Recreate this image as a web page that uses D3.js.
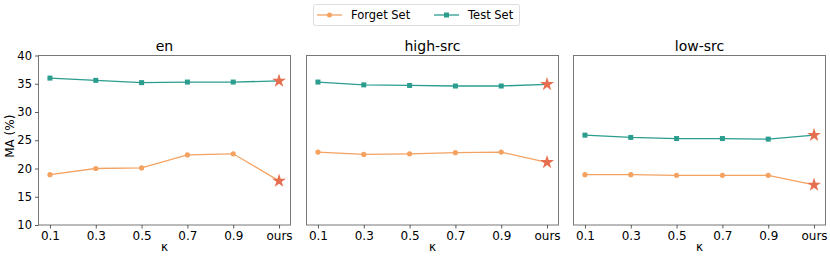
<!DOCTYPE html>
<html>
<head>
<meta charset="utf-8">
<script src="https://cdn.jsdelivr.net/npm/d3@7"></script>
<style>
body { margin: 0; background: #fff; }
svg { font-family: "DejaVu Sans", sans-serif; }
</style>
</head>
<body>
<div id="root"></div>
<script>
// x categories (kappa)
var kappas = ["0.1", "0.3", "0.5", "0.7", "0.9", "ours"];
var panels = ["en", "high-src", "low-src"];
var yTicks = [10, 15, 20, 25, 30, 35, 40];

// values
var forgetEn   = [18.9, 20.0, 20.1, 22.4, 22.6, 17.8];
var testEn     = [36.0, 35.6, 35.2, 35.3, 35.3, 35.5];
var forgetHigh = [22.9, 22.5, 22.6, 22.8, 22.9, 21.1];
var testHigh   = [35.3, 34.8, 34.7, 34.6, 34.6, 34.9];
var forgetLow  = [18.9, 18.9, 18.8, 18.8, 18.8, 17.1];
var testLow    = [25.9, 25.5, 25.3, 25.3, 25.2, 25.9];

var forgetAll = [forgetEn, forgetHigh, forgetLow];
var testAll = [testEn, testHigh, testLow];

var cForget = "#f4a261", cTest = "#2a9d8f", cStar = "#e76f51";

var W = 830, H = 261;
var svg = d3.select("#root").append("svg").attr("width", W).attr("height", H);

var panelLeft = [38.5, 306.5, 573.5];
var pw = 252, plotTop = 55.5, plotBottom = 225;

var y = d3.scaleLinear().domain([10, 40]).range([plotBottom, plotTop]);

var star = d3.symbol().type(d3.symbolStar).size(60);

panels.forEach(function(name, i) {
    var x0 = panelLeft[i];
    // matplotlib 5% margins on each side
    var x = d3.scalePoint().domain(kappas).range([x0 + pw * 0.05 / 1.1, x0 + pw - pw * 0.05 / 1.1]);

    var g = svg.append("g");

    // frame
    g.append("rect")
        .attr("x", x0).attr("y", plotTop)
        .attr("width", pw).attr("height", plotBottom - plotTop)
        .attr("fill", "none").attr("stroke", "#777").attr("stroke-width", 1);

    // x axis
    var xa = g.append("g").attr("transform", "translate(0," + plotBottom + ")")
        .call(d3.axisBottom(x).tickSize(3.5).tickPadding(3));
    xa.select(".domain").remove();
    xa.selectAll("line").attr("stroke", "#333").attr("stroke-width", 0.8);
    xa.selectAll("text").attr("font-size", "12px").attr("fill", "#000")
        .attr("font-family", "DejaVu Sans");

    g.append("text").attr("x", x0 + pw / 2).attr("y", 251)
        .attr("text-anchor", "middle").attr("font-size", "12px").text("κ");

    if (i === 0) {
        var ya = g.append("g").attr("transform", "translate(" + x0 + ",0)")
            .call(d3.axisLeft(y).tickValues(yTicks).tickSize(3.5).tickPadding(3));
        ya.select(".domain").remove();
        ya.selectAll("line").attr("stroke", "#333").attr("stroke-width", 0.8);
        ya.selectAll("text").attr("font-size", "11.5px").attr("fill", "#000")
            .attr("font-family", "DejaVu Sans");
        g.append("text")
            .attr("transform", "translate(14," + ((plotTop + plotBottom) / 2 - 4) + ") rotate(-90)")
            .attr("text-anchor", "middle").attr("font-size", "12px").text("MA (%)");
    }

    g.append("text").attr("x", x0 + pw / 2).attr("y", 51)
        .attr("text-anchor", "middle").attr("font-size", "14px").text(name);

    var line = d3.line().x(function(d, j) { return x(kappas[j]); }).y(function(d) { return y(d); });

    [[forgetAll[i], cForget, "circle"], [testAll[i], cTest, "square"]].forEach(function(s) {
        var vals = s[0];
        g.append("path").datum(vals).attr("d", line)
            .attr("fill", "none").attr("stroke", s[1]).attr("stroke-width", 1.3);
        var pts = vals.slice(0, 5);
        if (s[2] === "circle") {
            g.selectAll(null).data(pts).enter().append("circle")
                .attr("cx", function(d, j) { return x(kappas[j]); })
                .attr("cy", function(d) { return y(d); })
                .attr("r", 2.6).attr("fill", s[1]);
        } else {
            g.selectAll(null).data(pts).enter().append("rect")
                .attr("x", function(d, j) { return x(kappas[j]) - 2.5; })
                .attr("y", function(d) { return y(d) - 2.5; })
                .attr("width", 5).attr("height", 5).attr("fill", s[1]);
        }
        g.append("path").attr("d", star)
            .attr("transform", "translate(" + x("ours") + "," + y(vals[5]) + ")")
            .attr("fill", cStar);
    });
});

// legend
var lg = svg.append("g");
lg.append("rect").attr("x", 313.5).attr("y", 4.5).attr("width", 206).attr("height", 21)
    .attr("rx", 2).attr("fill", "#fff").attr("stroke", "#ddd");
var legendItems = [["Forget Set", cForget, "circle", 317], ["Test Set", cTest, "square", 434]];
legendItems.forEach(function(d) {
    lg.append("line").attr("x1", d[3]).attr("x2", d[3] + 25).attr("y1", 15).attr("y2", 15)
        .attr("stroke", d[1]).attr("stroke-width", 1.3);
    if (d[2] === "circle") {
        lg.append("circle").attr("cx", d[3] + 12.5).attr("cy", 15).attr("r", 2.5).attr("fill", d[1]);
    } else {
        lg.append("rect").attr("x", d[3] + 10).attr("y", 12.5).attr("width", 5).attr("height", 5).attr("fill", d[1]);
    }
    lg.append("text").attr("x", d[3] + 34).attr("y", 19).attr("font-size", "11.5px").text(d[0]);
});
</script>
</body>
</html>
